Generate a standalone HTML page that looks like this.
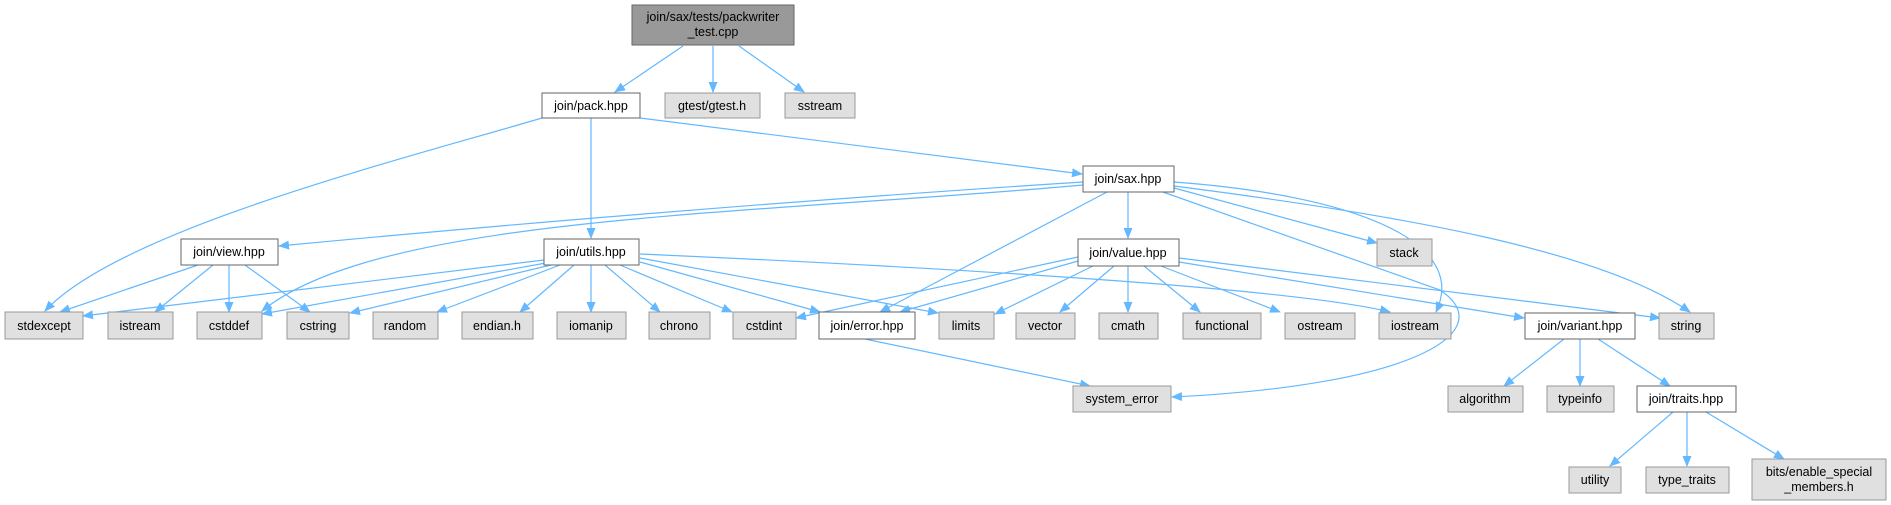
<!DOCTYPE html>
<html><head><meta charset="utf-8"><style>
html,body{margin:0;padding:0;background:#fff;width:1891px;height:505px;overflow:hidden}
svg text{font-family:"Liberation Sans",Arial,sans-serif;font-size:12.5px;fill:#000;text-anchor:middle}
</style></head><body>
<svg width="1891" height="505" viewBox="0 0 1891 505" xmlns="http://www.w3.org/2000/svg">
<defs><marker id="a" markerWidth="11" markerHeight="9" refX="10" refY="4.5" orient="auto" markerUnits="userSpaceOnUse"><path d="M0,0 L11,4.5 L0,9z" fill="#63b8ff"/></marker></defs>
<g fill="none" stroke="#63b8ff" stroke-width="1.2" marker-end="url(#a)">
<path d="M683,46 L615,92"/><path d="M713,46 L713,92"/><path d="M739,46 L804,92"/>
<path d="M542,118 C400,160 120,230 45,311"/>
<path d="M591,118 L591,238"/>
<path d="M640,118 L1082,174"/>
<path d="M1083,182 C800,200 500,225 279,246"/>
<path d="M1083,185 C750,215 380,215 262,311"/>
<path d="M1107,192 L880,312"/>
<path d="M1128,192 L1128,238"/>
<path d="M1174,182 C1350,195 1470,240 1436,312"/>
<path d="M1163,192 L1440,290 C1500,330 1420,385 1172,397"/>
<path d="M1174,188 L1377,243"/>
<path d="M1174,186 C1400,215 1600,250 1690,312"/>
<path d="M198,265 L60,312"/><path d="M213,265 L155,312"/><path d="M229,265 L229,312"/><path d="M245,265 L310,312"/>
<path d="M544,260 L83,316"/><path d="M546,263 L262,314"/><path d="M551,265 L350,313"/><path d="M560,265 L437,312"/>
<path d="M574,265 L520,312"/><path d="M591,265 L591,312"/><path d="M605,265 L660,312"/><path d="M620,265 L732,312"/>
<path d="M640,262 L820,312"/><path d="M640,258 L938,313"/>
<path d="M640,254 C1000,270 1300,290 1390,312"/>
<path d="M1078,257 L796,318"/><path d="M1078,261 L900,312"/><path d="M1095,265 L995,314"/>
<path d="M1114,266 L1060,312"/><path d="M1128,266 L1128,312"/><path d="M1144,266 L1200,312"/><path d="M1161,266 L1280,312"/>
<path d="M1179,262 L1524,318"/><path d="M1179,258 L1660,318"/>
<path d="M865,339 L1090,386"/>
<path d="M1564,339 L1504,386"/><path d="M1580,339 L1580,386"/><path d="M1598,339 L1670,386"/>
<path d="M1673,412 L1610,466"/><path d="M1687,412 L1687,466"/><path d="M1706,412 L1784,459"/>
</g>
<g stroke-width="1">
<rect x="632" y="5" width="162" height="40" fill="#999" stroke="#666"/>
<text x="713" y="21">join/sax/tests/packwriter</text><text x="713" y="36">_test.cpp</text>
<g fill="#fff" stroke="#666">
<rect x="542" y="93" width="98" height="25"/><rect x="181" y="239" width="97" height="26"/>
<rect x="544" y="239" width="95" height="26"/><rect x="1083" y="166" width="91" height="26"/>
<rect x="1078" y="239" width="101" height="27"/><rect x="819" y="312" width="96" height="27"/>
<rect x="1525" y="313" width="110" height="26"/><rect x="1637" y="386" width="99" height="26"/>
</g>
<g fill="#e0e0e0" stroke="#999">
<rect x="665" y="93" width="95" height="25"/><rect x="785" y="93" width="70" height="25"/>
<rect x="1377" y="239" width="55" height="27"/>
<rect x="5" y="312" width="78" height="27"/><rect x="108" y="312" width="65" height="27"/>
<rect x="197" y="312" width="65" height="27"/><rect x="287" y="312" width="62" height="27"/>
<rect x="373" y="312" width="65" height="27"/><rect x="462" y="312" width="71" height="27"/>
<rect x="557" y="312" width="69" height="27"/><rect x="649" y="312" width="61" height="27"/>
<rect x="733" y="312" width="63" height="27"/><rect x="939" y="312" width="55" height="27"/>
<rect x="1016" y="313" width="59" height="26"/><rect x="1099" y="313" width="59" height="26"/>
<rect x="1183" y="313" width="78" height="26"/><rect x="1285" y="313" width="70" height="26"/>
<rect x="1379" y="313" width="72" height="26"/><rect x="1659" y="313" width="55" height="26"/>
<rect x="1073" y="386" width="98" height="26"/><rect x="1448" y="386" width="75" height="26"/>
<rect x="1547" y="386" width="67" height="26"/>
<rect x="1569" y="467" width="52" height="26"/><rect x="1646" y="467" width="83" height="26"/>
<rect x="1752" y="459" width="134" height="41"/>
</g></g>
<text x="591" y="110">join/pack.hpp</text><text x="712" y="110">gtest/gtest.h</text><text x="820" y="110">sstream</text>
<text x="1128" y="183">join/sax.hpp</text>
<text x="229" y="256">join/view.hpp</text><text x="591" y="256">join/utils.hpp</text>
<text x="1128" y="257">join/value.hpp</text><text x="1404" y="257">stack</text>
<text x="44" y="330">stdexcept</text><text x="140" y="330">istream</text><text x="229" y="330">cstddef</text>
<text x="318" y="330">cstring</text><text x="405" y="330">random</text><text x="497" y="330">endian.h</text>
<text x="591" y="330">iomanip</text><text x="679" y="330">chrono</text><text x="764" y="330">cstdint</text>
<text x="867" y="330">join/error.hpp</text><text x="966" y="330">limits</text><text x="1045" y="330">vector</text>
<text x="1128" y="330">cmath</text><text x="1222" y="330">functional</text><text x="1320" y="330">ostream</text>
<text x="1415" y="330">iostream</text><text x="1580" y="330">join/variant.hpp</text><text x="1686" y="330">string</text>
<text x="1122" y="403">system_error</text><text x="1485" y="403">algorithm</text><text x="1580" y="403">typeinfo</text>
<text x="1686" y="403">join/traits.hpp</text>
<text x="1595" y="484">utility</text><text x="1687" y="484">type_traits</text>
<text x="1819" y="476">bits/enable_special</text><text x="1819" y="491">_members.h</text>
</svg>
</body></html>
